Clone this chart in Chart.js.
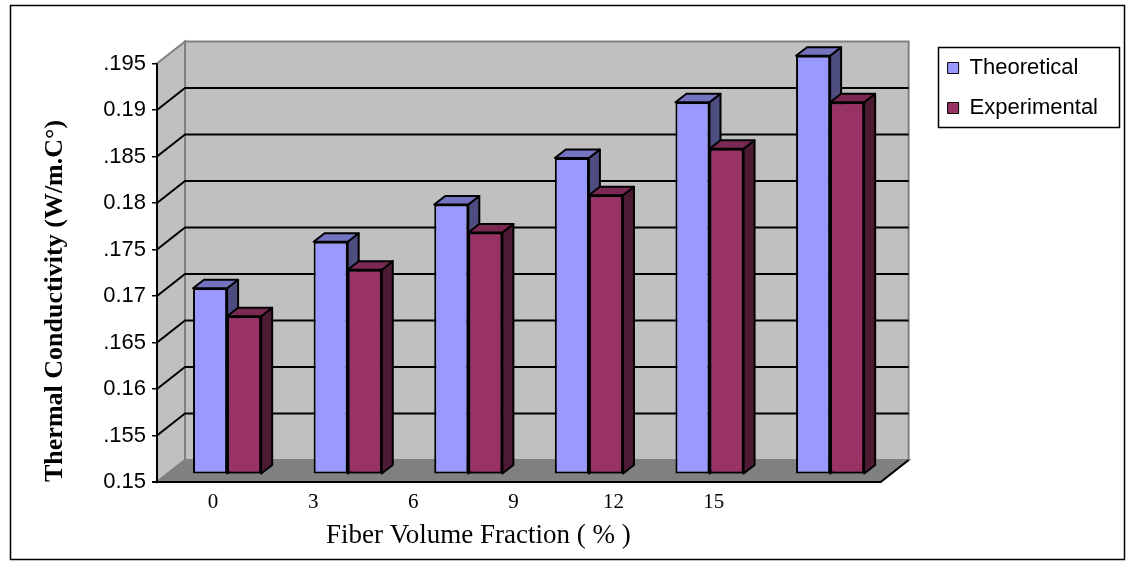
<!DOCTYPE html>
<html>
<head>
<meta charset="utf-8">
<script src="https://cdn.jsdelivr.net/npm/chart.js@4.4.1/dist/chart.umd.min.js"></script>
<style>
  html, body { margin: 0; padding: 0; background: #fff; }
  #wrap { width: 1131px; height: 565px; }
</style>
</head>
<body>
<div id="wrap"><canvas id="chart" width="1131" height="565"></canvas></div>
<script>
// Data
const categories = ['0', '3', '6', '9', '12', '15'];
const theoretical = [0.170, 0.175, 0.179, 0.184, 0.190, 0.195];
const experimental = [0.167, 0.172, 0.176, 0.180, 0.185, 0.190];
const yTickValues = [0.15, 0.155, 0.16, 0.165, 0.17, 0.175, 0.18, 0.185, 0.19, 0.195];
const yTickLabels = ['0.15', '.155', '0.16', '.165', '0.17', '.175', '0.18', '.185', '0.19', '.195'];
const xTickValues = [0, 3, 6, 9, 12, 15];
const xTickLabels = ['0', '3', '6', '9', '12', '15'];

// 3D look
const wall = { dx: 28, dy: -22 };       // depth of the box
const shift = { dx: 9.8, dy: -7.7 };    // bars sit a bit inside the box
const barDepth = { dx: 11, dy: -8.5 };
const theoShades = { top: '#7373bf', side: '#4d4d80' };
const expShades = { top: '#7a2952', side: '#4d1a33' };

function poly(ctx, pts) {
    ctx.beginPath();
    ctx.moveTo(pts[0][0], pts[0][1]);
    for (let i = 1; i < pts.length; i++) ctx.lineTo(pts[i][0], pts[i][1]);
    ctx.closePath();
}

function barFaces(ctx, bar, shades) {
    const { x, y, base, width } = bar.getProps(['x', 'y', 'base', 'width'], true);
    const l = x - width / 2, r = x + width / 2;
    const { dx, dy } = barDepth;
    ctx.lineWidth = 2;
    ctx.lineJoin = 'round';
    ctx.strokeStyle = '#000';
    ctx.fillStyle = shades.side;
    poly(ctx, [[r, y], [r + dx, y + dy], [r + dx, base + dy], [r, base]]);
    ctx.fill(); ctx.stroke();
    ctx.fillStyle = shades.top;
    poly(ctx, [[l, y], [l + dx, y + dy], [r + dx, y + dy], [r, y]]);
    ctx.fill(); ctx.stroke();
}

const box3d = {
    id: 'box3d',
    beforeDraw(chart) {
        const { ctx, chartArea: a, scales: { y } } = chart;
        const yTop = y.getPixelForValue(yTickValues[yTickValues.length - 1]);
        const yBot = y.getPixelForValue(yTickValues[0]);
        const L = a.left, R = a.right, dx = wall.dx, dy = wall.dy;
        ctx.save();
        // outer frame
        ctx.strokeStyle = '#000';
        ctx.lineWidth = 1.5;
        ctx.strokeRect(10.5, 5.5, 1114, 554);
        // side wall and back wall
        ctx.fillStyle = '#c0c0c0';
        ctx.strokeStyle = '#808080';
        ctx.lineWidth = 2;
        poly(ctx, [[L, yBot], [L, yTop], [L + dx, yTop + dy], [L + dx, yBot + dy]]);
        ctx.fill(); ctx.stroke();
        poly(ctx, [[L + dx, yTop + dy], [R + dx, yTop + dy], [R + dx, yBot + dy], [L + dx, yBot + dy]]);
        ctx.fill(); ctx.stroke();
        // floor
        ctx.fillStyle = '#808080';
        poly(ctx, [[L, yBot], [R, yBot], [R + dx, yBot + dy], [L + dx, yBot + dy]]);
        ctx.fill(); ctx.stroke();
        // grid lines
        ctx.strokeStyle = '#000';
        ctx.lineWidth = 2;
        yTickValues.slice(1, -1).forEach(v => {
            const py = y.getPixelForValue(v);
            ctx.beginPath();
            ctx.moveTo(L, py);
            ctx.lineTo(L + dx, py + dy);
            ctx.lineTo(R + dx, py + dy);
            ctx.stroke();
        });
        // axis line and front edge of the floor
        ctx.beginPath();
        ctx.moveTo(L, yTop);
        ctx.lineTo(L, yBot);
        ctx.moveTo(L - 5, yBot);
        ctx.lineTo(R, yBot);
        ctx.lineTo(R + dx, yBot + dy);
        ctx.stroke();
        // legend frame
        const lg = chart.legend;
        ctx.lineWidth = 1.5;
        ctx.strokeRect(Math.round(lg.left + 8) + 0.5, Math.round(lg.top + 8) + 0.5, 181, 80);
        ctx.restore();
    },
    beforeDatasetsDraw(chart) {
        chart.ctx.save();
        chart.ctx.translate(shift.dx, shift.dy);
    },
    afterDatasetsDraw(chart) {
        const ctx = chart.ctx;
        const t = chart.getDatasetMeta(0).data;
        const e = chart.getDatasetMeta(1).data;
        for (let i = 0; i < t.length; i++) {
            barFaces(ctx, t[i], theoShades);
            e[i].draw(ctx);
            barFaces(ctx, e[i], expShades);
        }
        ctx.restore();
    }
};

const ctx = document.getElementById('chart').getContext('2d');
new Chart(ctx, {
    type: 'bar',
    data: {
        labels: categories,
        datasets: [
            {
                label: 'Theoretical',
                data: theoretical,
                base: 0.15,
                backgroundColor: '#9999ff',
                borderColor: '#000',
                borderWidth: 2,
                borderSkipped: false,
                xAxisID: 'x',
                yAxisID: 'y'
            },
            {
                label: 'Experimental',
                data: experimental,
                base: 0.15,
                backgroundColor: '#993366',
                borderColor: '#000',
                borderWidth: 2,
                borderSkipped: false,
                xAxisID: 'x',
                yAxisID: 'y'
            }
        ]
    },
    options: {
        responsive: false,
        animation: false,
        devicePixelRatio: 1,
        layout: { padding: { left: 20, top: 39, right: 23, bottom: 5 } },
        datasets: { bar: { categoryPercentage: 0.565, barPercentage: 1.0 } },
        scales: {
            x: {
                type: 'category',
                display: false,
                offset: true
            },
            x2: {
                type: 'linear',
                position: 'bottom',
                offset: false,
                min: -1.68,
                max: 20.0,
                afterBuildTicks: (scale) => { scale.ticks = xTickValues.map(v => ({ value: v })); },
                afterFit: (scale) => { scale.height = 78; },
                grid: { display: false, drawTicks: false, offset: false },
                border: { display: false },
                ticks: {
                    autoSkip: false,
                    maxRotation: 0,
                    padding: 8,
                    color: '#000',
                    font: { family: 'Liberation Serif', size: 21 },
                    callback: (v, i) => xTickLabels[i]
                },
                title: {
                    display: true,
                    text: 'Fiber Volume Fraction ( % )' + ' '.repeat(12),
                    color: '#000',
                    font: { family: 'Liberation Serif', size: 27 },
                    padding: { top: 0, bottom: 8 }
                }
            },
            y: {
                type: 'linear',
                position: 'left',
                min: 0.15,
                max: 0.19763,
                afterBuildTicks: (scale) => { scale.ticks = yTickValues.map(v => ({ value: v })); },
                afterFit: (scale) => { scale.width = 137; },
                grid: { display: true, drawOnChartArea: false, drawTicks: true, tickLength: 5, color: '#000', lineWidth: 1.5 },
                border: { display: false },
                ticks: {
                    padding: 6,
                    color: '#000',
                    font: { family: 'Liberation Sans', size: 22 },
                    callback: (v, i) => yTickLabels[i]
                },
                title: {
                    display: true,
                    align: 'start',
                    text: 'Thermal Conductivity (W/m.C°)',
                    color: '#000',
                    font: { family: 'Liberation Serif', size: 26, weight: 'bold' },
                    padding: { top: 20, bottom: 0 }
                }
            },
            gap: {
                type: 'linear',
                position: 'right',
                display: true,
                afterFit: (scale) => { scale.width = 49; },
                grid: { display: false, drawTicks: false },
                border: { display: false },
                ticks: { display: false }
            }
        },
        plugins: {
            legend: {
                position: 'right',
                align: 'start',
                labels: {
                    boxWidth: 11,
                    boxHeight: 11,
                    padding: 18,
                    color: '#000',
                    font: { family: 'Liberation Sans', size: 22 },
                    generateLabels: (chart) => {
                        const items = Chart.defaults.plugins.legend.labels.generateLabels(chart);
                        items.forEach(it => { it.lineWidth = 1; });
                        return items;
                    }
                }
            },
            tooltip: { enabled: false }
        }
    },
    plugins: [box3d]
});
</script>
</body>
</html>
